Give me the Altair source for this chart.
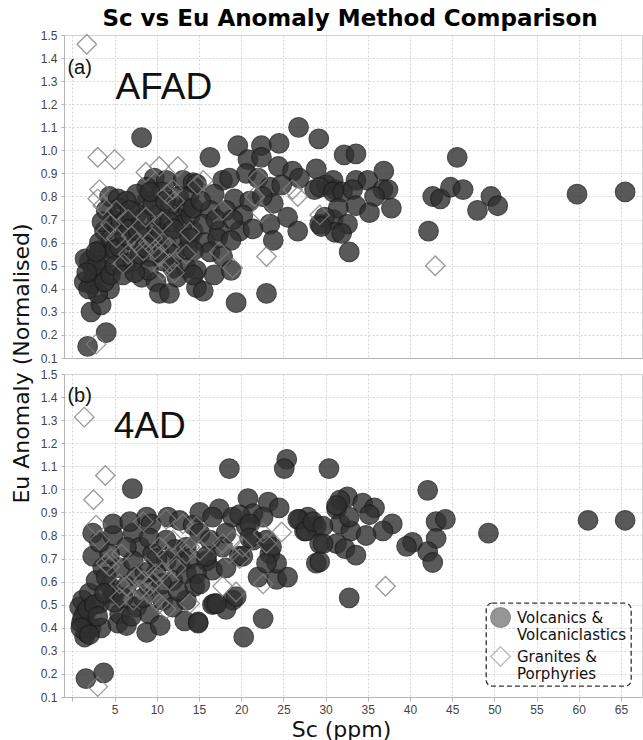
import altair as alt
import pandas as pd

VOLC = "Volcanics & Volcaniclastics"
GRAN = "Granites & Porphyries"

# ---------------- (a) AFAD ----------------
afad_volc_sc = [2.0, 2.4, 2.2, 1.4, 2.2, 3.4, 4.0, 1.8, 4.4, 3.6, 4.2, 3.2, 4.4, 5.4, 4.0, 4.8, 3.8, 3.2,
                1.5, 2.6, 3.0, 1.9, 2.9, 1.7, 3.8, 4.6, 5.0, 4.5, 5.2, 2.8, 3.5, 5.6, 5.0,
                6.4, 5.6, 6.4, 6.0, 8.2, 9.9, 10.3, 11.5, 8.8, 9.7, 11.1, 8.8, 13.1, 14.3, 7.6, 9.9, 12.3,
                13.5, 14.3, 8.0, 9.1, 11.9, 13.5, 14.7, 14.7, 11.1, 7.0, 7.6, 6.4, 8.2, 6.8, 7.2, 8.5, 9.4,
                10.5, 10.0, 11.6, 12.6, 10.6, 12.0, 12.8, 13.0, 9.0, 10.8, 7.4, 6.2, 11.5, 8.2, 9.5, 12.4,
                13.6, 14.0, 13.8, 10.2, 8.6, 6.8, 7.8, 12.0, 11.0, 9.2,
                16.3, 19.6, 22.4, 24.5, 20.8, 22.4, 24.4, 26.1, 28.9, 20.6, 17.8, 18.6, 22.0, 23.4, 26.9,
                28.7, 30.1, 31.1, 14.7, 16.8, 19.2, 21.0, 23.8, 14.3, 16.3, 18.2, 20.2, 23.4, 25.5, 26.7,
                29.3, 30.9, 15.5, 17.4, 19.8, 21.4, 13.9, 15.7, 17.2, 18.8, 23.8, 16.3, 14.3, 17.8, 14.3,
                16.8, 18.8, 15.5, 19.4, 23.0, 26.8, 29.2, 15.2, 17.0, 19.0, 22.5, 24.8,
                32.2, 33.6, 45.6, 36.9, 30.9, 33.6, 35.0, 29.3, 30.9, 32.0, 33.2, 36.8, 37.4, 35.8, 33.6,
                31.5, 35.2, 37.8, 29.9, 32.6, 31.1, 29.5, 31.9, 32.8, 42.7, 43.6, 44.8, 46.3, 49.6, 50.4,
                48.0, 42.2, 59.8, 65.5]
afad_volc_eu = [0.52, 0.49, 0.42, 0.43, 0.30, 0.33, 0.21, 0.15, 0.40, 0.48, 0.55, 0.565, 0.80, 0.79, 0.74, 0.70, 0.65, 0.60,
                0.53, 0.45, 0.38, 0.40, 0.50, 0.47, 0.43, 0.62, 0.57, 0.46, 0.68, 0.56, 0.69, 0.75, 0.50,
                0.70, 0.58, 0.51, 0.46, 0.45, 0.43, 0.38, 0.38, 0.78, 0.88, 0.87, 0.84, 0.87, 0.86, 0.725, 0.67, 0.71,
                0.75, 0.65, 0.55, 0.54, 0.49, 0.49, 0.48, 0.405, 0.59, 0.61, 0.81, 0.78, 1.055, 0.66, 0.52, 0.63, 0.60,
                0.64, 0.72, 0.76, 0.80, 0.82, 0.55, 0.62, 0.68, 0.48, 0.52, 0.47, 0.63, 0.69, 0.70, 0.76, 0.45,
                0.57, 0.72, 0.80, 0.56, 0.58, 0.74, 0.65, 0.66, 0.78, 0.82,
                0.97, 1.02, 1.02, 1.03, 0.96, 0.97, 0.93, 0.91, 0.92, 0.90, 0.87, 0.88, 0.88, 0.84, 0.88,
                0.83, 0.85, 0.83, 0.855, 0.81, 0.79, 0.78, 0.77, 0.75, 0.74, 0.74, 0.72, 0.68, 0.71, 0.65,
                0.68, 0.70, 0.68, 0.65, 0.65, 0.66, 0.62, 0.60, 0.62, 0.61, 0.61, 0.56, 0.565, 0.54, 0.46,
                0.46, 0.48, 0.39, 0.34, 0.38, 1.10, 1.05, 0.78, 0.70, 0.70, 0.80, 0.85,
                0.98, 0.985, 0.97, 0.91, 0.87, 0.87, 0.87, 0.84, 0.82, 0.82, 0.83, 0.83, 0.83, 0.80, 0.76,
                0.75, 0.73, 0.75, 0.71, 0.68, 0.645, 0.67, 0.64, 0.56, 0.80, 0.79, 0.84, 0.83, 0.80, 0.76,
                0.74, 0.65, 0.81, 0.82]

afad_gran_sc = [1.7, 3.0, 5.0, 8.7, 10.3, 12.5, 3.2, 3.0, 3.6, 11.9, 12.1, 5.2, 6.6, 8.7, 10.7, 13.9, 4.0,
                5.2, 7.6, 9.5, 10.7, 11.5, 8.4, 6.6, 6.0, 10.3, 10.7, 12.1, 11.5, 13.5, 2.8, 15.5, 22.0,
                26.1, 26.7, 21.6, 17.8, 22.4, 29.3, 17.4, 19.0, 23.0, 43.0, 9.0, 9.8, 7.0, 11.2, 4.5, 14.8]
afad_gran_eu = [1.46, 0.97, 0.96, 0.905, 0.93, 0.93, 0.83, 0.79, 0.76, 0.83, 0.78, 0.74, 0.70, 0.71, 0.69, 0.645, 0.65,
                0.62, 0.60, 0.62, 0.60, 0.58, 0.565, 0.55, 0.51, 0.54, 0.48, 0.47, 0.51, 0.55, 0.16, 0.87, 0.88,
                0.83, 0.80, 0.80, 0.74, 0.73, 0.72, 0.56, 0.49, 0.54, 0.50, 0.60, 0.57, 0.63, 0.81, 0.68, 0.85]

# ---------------- (b) 4AD ----------------
ad4_volc_sc = [1.6, 3.7, 0.85, 1.2, 1.45, 1.05, 1.6, 1.45, 2.2, 2.0, 2.8, 3.2, 3.4, 4.8, 5.4, 5.6, 6.4, 4.4,
               3.6, 5.6, 2.4, 4.4, 2.4, 3.2, 4.8, 4.8, 7.1, 1.2, 1.8, 2.6, 1.0, 2.0, 3.0, 4.0, 5.0, 3.8,
               7.2, 8.8, 9.3, 11.3, 12.7, 14.3, 8.0, 9.5, 7.2, 6.4, 11.1, 9.1, 13.5, 11.1, 12.7, 11.9, 13.5,
               9.9, 7.6, 6.4, 9.1, 7.6, 9.1, 10.7, 11.9, 13.5, 8.8, 10.4, 13.3, 14.9, 6.0, 8.4, 10.0, 12.2,
               8.6, 10.6, 12.5, 7.0, 14.0, 14.5, 6.8,
               15.1, 17.4, 18.6, 20.8, 23.2, 24.5, 16.6, 19.0, 21.4, 22.6, 20.6, 21.4, 23.0, 23.4, 19.8,
               17.8, 15.9, 16.6, 14.7, 15.1, 16.6, 19.0, 18.2, 16.8, 15.1, 16.3, 18.2, 22.0, 24.2, 25.5,
               24.2, 22.6, 20.3, 25.4, 25.1, 26.9, 27.9, 27.5, 28.9, 29.3, 28.9, 19.8, 21.0, 21.0, 20.2,
               18.2, 15.9, 17.1, 14.9, 19.4, 23.6, 23.0, 26.7, 27.7, 28.5,
               30.4, 42.1, 32.6, 31.7, 34.4, 35.8, 31.3, 35.2, 43.1, 44.2, 37.9, 36.8, 31.7, 33.0, 34.8,
               49.3, 61.1, 65.5, 43.1, 40.3, 39.6, 29.7, 31.3, 32.3, 33.6, 42.1, 42.7, 29.3, 32.8, 32.8,
               31.3, 29.7]
ad4_volc_eu = [0.18, 0.205, 0.49, 0.52, 0.46, 0.42, 0.38, 0.36, 0.40, 0.55, 0.605, 0.505, 0.40, 0.55, 0.42, 0.46, 0.41, 0.58,
               0.66, 0.66, 0.71, 0.72, 0.81, 0.77, 0.80, 0.85, 1.003, 0.44, 0.48, 0.50, 0.40, 0.37, 0.45, 0.62, 0.51, 0.55,
               0.81, 0.88, 0.85, 0.88, 0.865, 0.845, 0.75, 0.72, 0.69, 0.75, 0.78, 0.79, 0.75, 0.69, 0.68, 0.605, 0.635,
               0.635, 0.62, 0.58, 0.58, 0.49, 0.46, 0.52, 0.49, 0.52, 0.38, 0.41, 0.43, 0.425, 0.53, 0.53, 0.70, 0.74,
               0.64, 0.59, 0.56, 0.45, 0.70, 0.58, 0.86,
               0.90, 0.915, 1.09, 0.96, 0.945, 0.92, 0.88, 0.88, 0.895, 0.88, 0.84, 0.78, 0.78, 0.72, 0.71,
               0.75, 0.69, 0.65, 0.635, 0.59, 0.50, 0.52, 0.48, 0.505, 0.81, 0.78, 0.81, 0.62, 0.61, 0.62,
               0.68, 0.44, 0.36, 1.13, 1.09, 0.87, 0.88, 0.82, 0.84, 0.765, 0.68, 0.89, 0.85, 0.79, 0.71,
               0.66, 0.71, 0.505, 0.42, 0.535, 0.75, 0.68, 0.87, 0.82, 0.86,
               1.09, 0.996, 0.967, 0.953, 0.94, 0.92, 0.915, 0.89, 0.86, 0.87, 0.85, 0.82, 0.85, 0.82, 0.80,
               0.81, 0.866, 0.866, 0.787, 0.77, 0.753, 0.84, 0.765, 0.743, 0.715, 0.73, 0.683, 0.686, 0.53, 0.88,
               0.93, 0.765]

ad4_gran_sc = [1.4, 3.9, 2.5, 3.0, 2.8, 3.2, 4.0, 4.4, 5.8, 8.4, 11.1, 13.1, 11.9, 10.3, 13.5, 11.1, 8.8,
               9.9, 7.6, 5.6, 6.4, 8.0, 9.1, 11.5, 12.3, 5.6, 7.2, 10.3, 11.1, 9.5, 8.4, 13.9, 14.7, 13.9,
               16.3, 17.8, 19.0, 20.2, 18.6, 19.8, 22.6, 24.8, 23.0, 17.8, 19.4, 22.6, 15.1, 37.1, 4.6, 9.6, 10.6]
ad4_gran_eu = [1.313, 1.06, 0.955, 0.145, 0.845, 0.78, 0.68, 0.665, 0.72, 0.86, 0.87, 0.85, 0.78, 0.75, 0.72, 0.715, 0.66,
               0.635, 0.62, 0.59, 0.58, 0.565, 0.58, 0.605, 0.66, 0.53, 0.52, 0.505, 0.48, 0.535, 0.605, 0.505, 0.84, 0.75,
               0.78, 0.765, 0.78, 0.75, 0.72, 0.70, 0.81, 0.815, 0.765, 0.58, 0.555, 0.59, 0.735, 0.58, 0.70, 0.60, 0.64]

y_ticks = [0.1, 0.2, 0.3, 0.4, 0.5, 0.6, 0.7, 0.8, 0.9, 1.0, 1.1, 1.2, 1.3, 1.4, 1.5]
x_ticks = [0, 5, 10, 15, 20, 25, 30, 35, 40, 45, 50, 55, 60, 65]

panel_tags = ["(a)", "(b)"]
panel_names = ["AFAD", "4AD"]
tag_pos = [(-0.6, 1.357), (-0.6, 1.405)]
name_pos = [(5.1, 1.272), (4.9, 1.272)]

W, H = 578, 323
X_DOM = [-1.0, 67.5]
Y_DOM = [0.1, 1.5]


def frame(vs, ve, gs, ge):
    a = pd.DataFrame({"sc": vs, "eu": ve, "type": VOLC})
    b = pd.DataFrame({"sc": gs, "eu": ge, "type": GRAN})
    return pd.concat([a, b], ignore_index=True)


def panel(df, idx, bottom):
    if bottom:
        xaxis = alt.Axis(values=x_ticks, tickCount=30, labelExpr="datum.value == 0 ? '' : datum.label",
                         tickSize=4, labelPadding=3, title="Sc (ppm)", titleX=277, titlePadding=4,
                         labelOverlap=False)
        yaxis = alt.Axis(values=y_ticks, tickCount=30, format=".1f", tickSize=3, labelPadding=4,
                         labelOverlap=False, title="Eu Anomaly (Normalised)", titleX=-31, titleY=-11)
        leg = alt.Legend(title=None, orient="bottom-right", offset=11,
                         labelExpr="datum.label == 'Volcanics & Volcaniclastics' ? ['Volcanics &', 'Volcaniclastics'] : ['Granites &', 'Porphyries']",
                         symbolSize=380, symbolOpacity=0.5, labelFontSize=15, labelFont="DejaVu Sans",
                         labelColor="#111", strokeColor="#333", cornerRadius=6, padding=4, rowPadding=0,
                         labelOffset=6)
    else:
        xaxis = alt.Axis(values=x_ticks, tickCount=30, labels=False, ticks=False, title=None)
        yaxis = alt.Axis(values=y_ticks, tickCount=30, format=".1f", tickSize=3, labelPadding=4,
                         labelOverlap=False, title=None)
        leg = None
    dom = [VOLC, GRAN]
    pts = alt.Chart(df).mark_point(opacity=0.8, strokeWidth=1.3).encode(
        x=alt.X("sc:Q", scale=alt.Scale(domain=X_DOM, nice=False, zero=False), axis=xaxis),
        y=alt.Y("eu:Q", scale=alt.Scale(domain=Y_DOM, nice=False, zero=False), axis=yaxis),
        shape=alt.Shape("type:N", scale=alt.Scale(domain=dom, range=["circle", "diamond"]), legend=leg),
        fill=alt.Fill("type:N", scale=alt.Scale(domain=dom, range=["#303030", "transparent"]), legend=leg),
        stroke=alt.Stroke("type:N", scale=alt.Scale(domain=dom, range=["#1e1e1e", "#808080"]), legend=leg),
        size=alt.value(380),
    )
    tag_df = pd.DataFrame({"sc": [tag_pos[idx][0]], "eu": [tag_pos[idx][1]], "t": [panel_tags[idx]]})
    name_df = pd.DataFrame({"sc": [name_pos[idx][0]], "eu": [name_pos[idx][1]], "t": [panel_names[idx]]})
    tag = alt.Chart(tag_df).mark_text(align="left", baseline="middle", fontSize=20,
                                      font="Liberation Sans", color="#111").encode(
        x=alt.X("sc:Q"), y=alt.Y("eu:Q"), text="t:N")
    name = alt.Chart(name_df).mark_text(align="left", baseline="middle", fontSize=37,
                                        font="Liberation Sans", color="#111").encode(
        x=alt.X("sc:Q"), y=alt.Y("eu:Q"), text="t:N")
    return alt.layer(pts, tag, name).properties(width=W, height=H)


top = panel(frame(afad_volc_sc, afad_volc_eu, afad_gran_sc, afad_gran_eu), 0, False)
bottom = panel(frame(ad4_volc_sc, ad4_volc_eu, ad4_gran_sc, ad4_gran_eu), 1, True)

chart = alt.vconcat(top, bottom, spacing=16, bounds="flush").resolve_scale(
    shape="independent", fill="independent", stroke="independent"
).properties(
    title=alt.TitleParams("Sc vs Eu Anomaly Method Comparison", font="DejaVu Sans", fontSize=23,
                          fontWeight="bold", color="#000", anchor="middle", offset=-2, dx=24),
    padding={"left": 9, "top": 7, "right": 0, "bottom": 0},
).configure_view(stroke="#cfcfcf").configure_axis(
    labelFont="Liberation Sans", labelFontSize=12, labelColor="#444",
    titleFont="DejaVu Sans", titleFontSize=22, titleFontWeight="normal", titleColor="#111",
    gridColor="#d6d6d6", gridDash=[2, 2], domainColor="#b5b5b5", tickColor="#b5b5b5",
).configure_legend(strokeDash=[5, 3], strokeWidth=1.3)

chart.save("out.html", embed_options={"renderer": "svg", "actions": False})
